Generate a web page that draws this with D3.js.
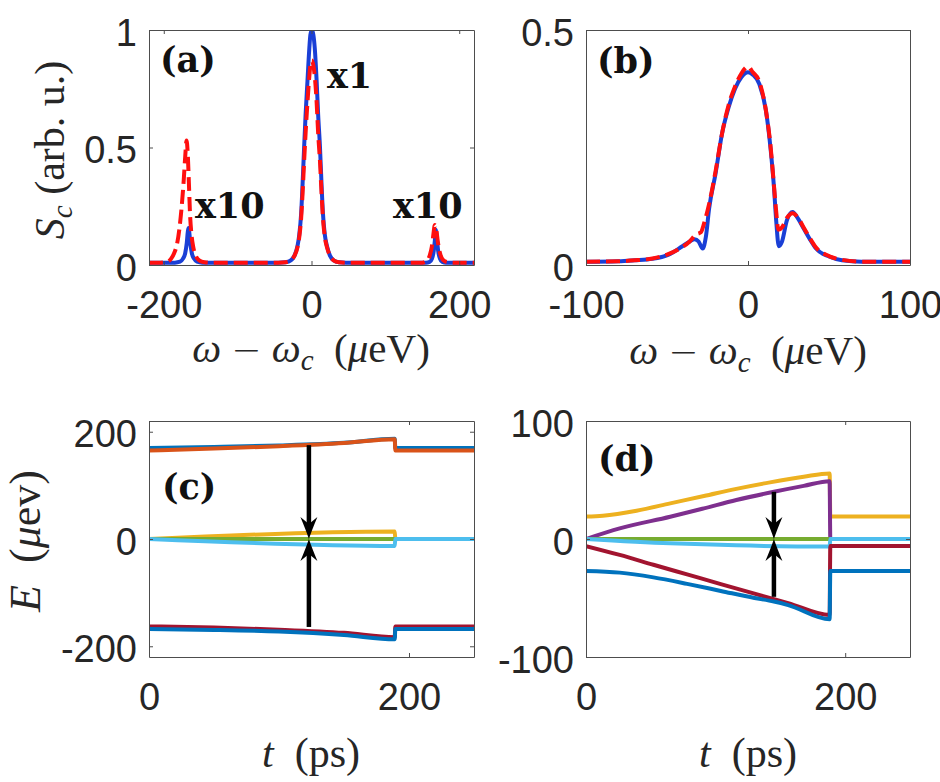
<!DOCTYPE html>
<html>
<head>
<meta charset="utf-8">
<script src="https://cdn.jsdelivr.net/npm/d3@7"></script>
<style>
  body { margin: 0; background: #fff; }
  .tick text { font-family: "Liberation Sans", Arial, sans-serif; font-size: 38px; fill: #262626; }
  .tick line, .domain { stroke: #4d4d4d; stroke-width: 1; }
  .math { font-family: "Liberation Serif", serif; fill: #262626; }
  .tag { font-family: "DejaVu Serif", serif; font-weight: bold; font-size: 35px; fill: #111; }
</style>
</head>
<body>
<svg id="chart" width="940" height="782"></svg>
<script>
// ---- panel (a): cavity spectrum S_c vs omega - omega_c, [x, S]
var aBlue = [[-220,0.01],[-185,0.01],[-178,0.014],[-174,0.027],[-171,0.05],[-169,0.09],[-167.5,0.14],[-166.5,0.157],
  [-165.5,0.14],[-164,0.09],[-162,0.05],[-159,0.027],[-155,0.014],[-148,0.01],
  [-45,0.01],[-35,0.012],[-28,0.02],[-23,0.04],[-19,0.08],[-16.5,0.13],[-14,0.22],[-12,0.35],[-10,0.5],[-8,0.64],
  [-5.5,0.78],[-3,0.92],[-1.5,0.98],[0.5,1.0],[2.5,0.98],[4.5,0.92],[7,0.78],[9,0.64],[11.5,0.5],[13.5,0.35],
  [15.5,0.22],[18,0.13],[21,0.08],[25,0.04],[30,0.02],[37,0.012],[47,0.01],
  [155,0.01],[160,0.013],[163,0.026],[165.5,0.06],[167.5,0.12],[168.5,0.15],[169.5,0.12],[171.5,0.06],
  [174,0.026],[177,0.013],[182,0.01],[220,0.01]];

var aRed = [[-220,0.01],[-205,0.01],[-195,0.014],[-190,0.027],[-186,0.05],[-182,0.09],[-179,0.15],[-176,0.24],
  [-173,0.36],[-171,0.46],[-169.2,0.53],[-167.5,0.47],[-166,0.35],[-164.5,0.22],[-162.5,0.13],[-160,0.075],
  [-157,0.042],[-152,0.02],[-145,0.012],[-135,0.01],
  [-45,0.01],[-35,0.012],[-28,0.02],[-23,0.04],[-19,0.075],[-16.5,0.12],[-14,0.2],[-12,0.31],[-10,0.44],[-8,0.56],
  [-5.5,0.69],[-3,0.8],[-1.5,0.85],[0.5,0.87],[2.5,0.85],[4.5,0.8],[7,0.69],[9,0.56],[11.5,0.44],[13.5,0.31],
  [15.5,0.2],[18,0.12],[21,0.075],[25,0.04],[30,0.02],[37,0.012],[47,0.01],
  [150,0.01],[156,0.017],[160,0.04],[163,0.08],[165,0.13],[167,0.17],[169,0.15],[171,0.1],[174,0.05],
  [178,0.022],[184,0.012],[192,0.01],[220,0.01]];

// ---- panel (b): zoom on the central peak, [x, S]
var bBlue = [[-100,0.007],[-80,0.008],[-70,0.01],[-59,0.013],[-49,0.022],[-40.5,0.04],[-36,0.05],[-33,0.055],
  [-30.5,0.05],[-28,0.035],[-26,0.06],[-24,0.12],[-20,0.195],[-16,0.28],[-12,0.335],[-8,0.375],[-4,0.4],
  [0,0.41],[3,0.405],[7,0.385],[11,0.33],[14,0.245],[16,0.167],[17.5,0.09],[19,0.04],[21,0.05],[24,0.095],
  [27.5,0.113],[31,0.098],[34,0.08],[38,0.056],[42,0.035],[50,0.018],[58,0.01],[70,0.007],[100,0.007]];

var bRed = [[-100,0.007],[-80,0.008],[-70,0.01],[-59,0.014],[-50,0.022],[-42,0.035],[-36,0.05],[-32,0.065],
  [-29,0.07],[-27,0.09],[-24,0.13],[-20,0.2],[-16,0.28],[-12,0.34],[-8,0.38],[-4,0.408],[0,0.422],[3,0.41],
  [7,0.39],[11,0.33],[14,0.25],[16,0.17],[17.5,0.11],[18.7,0.075],[21,0.08],[24,0.1],[27.5,0.11],[31,0.1],
  [34,0.082],[38,0.058],[42,0.037],[50,0.019],[58,0.011],[70,0.007],[100,0.007]];

// ---- panel (c): energy levels E vs t, [t, E]
var cBlueTop   = [[0,169.5],[50,171.5],[100,174.5],[150,179.5],[189,187],[189.5,169.5],[250,169.5]];
var cOrange    = [[0,165],[50,168.5],[100,173],[150,179],[189,186],[189.5,165],[250,165]];
var cYellow    = [[0,0],[189,14],[189.5,0],[250,0]];
var cGreen     = [[0,0],[250,0]];
var cLightBlue = [[0,0],[189,-13],[189.5,0],[250,0]];
var cRed       = [[0,-163],[50,-165],[100,-169],[150,-175],[189,-183],[189.5,-163],[250,-163]];
var cBlueBot   = [[0,-168],[50,-169.5],[100,-172.5],[150,-179],[189,-187],[189.5,-168],[250,-168]];

// ---- panel (d): energy levels E vs t, [t, E]
var dYellow    = [[0,19],[13,19.8],[39,24],[65,30.2],[91,36.4],[116,42.5],[142,48],[168,52.8],[188,55.6],
  [188.5,19],[250,19]];
var dPurple    = [[0,0],[26,9],[65,18.9],[91,26],[116,33],[145,40],[168,45],[188,49],[188.5,0],[250,0]];
var dGreen     = [[0,0],[188.5,0]];
var dLightBlue = [[0,0],[65,-3.7],[116,-5.4],[188,-6.4],[188.5,0],[250,0]];
var dRed       = [[0,-6],[26,-13.5],[52,-21.8],[78,-30],[104,-38.2],[130,-46.3],[156,-54.3],[188,-64.4],
  [188.5,-6],[250,-6]];
var dBlue      = [[0,-27.1],[26,-28.5],[52,-32.5],[78,-38],[104,-44],[130,-50],[145,-53],[156,-56],[188,-68],
  [188.5,-27.1],[250,-27.1]];

// arrows: [t, Etop, Ebottom, Ehead]
var cArrow = [123, 175, -164, 0];
var dArrow = [145, 40, -49, 0];

// ticks
var aXTicks = [-200, 0, 200], aYTicks = [0, 0.5, 1], aYLabels = ["0", "0.5", "1"];
var bXTicks = [-100, 0, 100], bYTicks = [0, 0.5], bYLabels = ["0", "0.5"];
var cXTicks = [0, 200], cYTicks = [-200, 0, 200];
var dXTicks = [0, 200], dYTicks = [-100, 0, 100];

var svg = d3.select("#chart");

var mBlue = "#1a3fd6", mRed = "#ff0f0f";
var colors = {blue: "#0072BD", orange: "#D95319", yellow: "#EDB120", purple: "#7E2F8E",
  green: "#77AC30", lightblue: "#4DBEEE", red: "#A2142F"};

// plain hyphen for negatives, like the original
function fmt(d) { return String(d); }

// builds one boxed axes with inward ticks on all four sides
function makePanel(id, xDom, yDom, box, xTicks, yTicks, yLabels) {
  var x = d3.scaleLinear().domain(xDom).range([box.l, box.r]);
  var y = d3.scaleLinear().domain(yDom).range([box.b, box.t]);
  var g = svg.append("g").attr("id", id);

  g.append("clipPath").attr("id", id + "-clip")
    .append("rect").attr("x", box.l).attr("y", box.t)
    .attr("width", box.r - box.l).attr("height", box.b - box.t);

  var plot = g.append("g").attr("clip-path", "url(#" + id + "-clip)");

  var xAx = g.append("g").attr("transform", "translate(0," + box.b + ")")
    .call(d3.axisBottom(x).tickValues(xTicks).tickSizeInner(-4).tickSizeOuter(0).tickPadding(26)
      .tickFormat(fmt));
  xAx.selectAll(".tick text").attr("dy", "0.71em");

  var yAx = g.append("g").attr("transform", "translate(" + box.l + ",0)")
    .call(d3.axisLeft(y).tickValues(yTicks).tickSizeInner(-4).tickSizeOuter(0).tickPadding(12)
      .tickFormat(function(d, i) { return yLabels ? yLabels[i] : fmt(d); }));
  yAx.selectAll(".tick text").attr("dy", "0.4em");

  g.append("g").attr("transform", "translate(0," + box.t + ")")
    .call(d3.axisTop(x).tickValues(xTicks).tickSizeInner(-4).tickSizeOuter(0).tickFormat(""));
  g.append("g").attr("transform", "translate(" + box.r + ",0)")
    .call(d3.axisRight(y).tickValues(yTicks).tickSizeInner(-4).tickSizeOuter(0).tickFormat(""));

  return {x: x, y: y, plot: plot, g: g};
}

function drawSmooth(p, pts, color, width, dash) {
  var line = d3.line().curve(d3.curveMonotoneX)
    .x(function(d) { return p.x(d[0]); })
    .y(function(d) { return p.y(d[1]); });
  var path = p.plot.append("path")
    .attr("d", line(pts))
    .attr("fill", "none")
    .attr("stroke", color)
    .attr("stroke-width", width)
    .attr("stroke-linejoin", "round");
  if (dash) path.attr("stroke-dasharray", dash);
  return path;
}

// double arrow pointing at Ehead from above and below
function drawArrow(p, arr) {
  var xs = p.x(arr[0]), y1 = p.y(arr[1]), y2 = p.y(arr[2]), yh = p.y(arr[3]);
  p.g.append("line").attr("x1", xs).attr("x2", xs).attr("y1", y1).attr("y2", yh - 12)
    .attr("stroke", "#000").attr("stroke-width", 4.5);
  p.g.append("line").attr("x1", xs).attr("x2", xs).attr("y1", y2).attr("y2", yh + 12)
    .attr("stroke", "#000").attr("stroke-width", 4.5);
  var head = "M0,0 Q-3,-9 -8.5,-22 L0,-15 L8.5,-22 Q3,-9 0,0 Z";
  p.g.append("path").attr("d", head).attr("fill", "#000")
    .attr("transform", "translate(" + xs + "," + yh + ")");
  p.g.append("path").attr("d", head).attr("fill", "#000")
    .attr("transform", "translate(" + xs + "," + yh + ") scale(1,-1)");
}

function tag(x, y, s) {
  svg.append("text").attr("class", "tag").attr("x", x).attr("y", y).text(s);
}

// x label: omega - omega_c (mu eV)
function omegaLabel(cx, y) {
  var t = svg.append("text").attr("class", "math").attr("x", cx).attr("y", y)
    .attr("text-anchor", "middle").attr("font-size", 41);
  t.append("tspan").attr("font-style", "italic").text("ω");
  t.append("tspan").text(" ");
  t.append("tspan").attr("font-family", "DejaVu Sans").attr("font-weight", 200).attr("font-size", 36).text("−");
  t.append("tspan").text(" ");
  t.append("tspan").attr("font-style", "italic").text("ω");
  t.append("tspan").attr("font-style", "italic").attr("font-size", 29).attr("dy", 8).text("c");
  t.append("tspan").attr("dy", -8).text("\u2002(");
  t.append("tspan").attr("font-style", "italic").text("μ");
  t.append("tspan").text("eV)");
}

function tLabel(cx, y) {
  var t = svg.append("text").attr("class", "math").attr("x", cx).attr("y", y)
    .attr("text-anchor", "middle").attr("font-size", 42);
  t.append("tspan").attr("font-style", "italic").text("t");
  t.append("tspan").text("\u2002(ps)");
}

// ---------- (a)
var pa = makePanel("pa", [-220, 220], [0, 1], {l: 149, r: 474, t: 30, b: 265}, aXTicks, aYTicks, aYLabels);
drawSmooth(pa, aBlue, mBlue, 4);
drawSmooth(pa, aRed, mRed, 4, "14,6");

// ---------- (b)
var pb = makePanel("pb", [-100, 100], [0, 0.5], {l: 586, r: 910, t: 30, b: 265}, bXTicks, bYTicks, bYLabels);
drawSmooth(pb, bBlue, mBlue, 4);
drawSmooth(pb, bRed, mRed, 4, "14,6");

// ---------- (c)
var pc = makePanel("pc", [0, 250], [-220, 220], {l: 149, r: 474, t: 421, b: 657}, cXTicks, cYTicks);
drawSmooth(pc, cBlueTop, colors.blue, 4);
drawSmooth(pc, cOrange, colors.orange, 4);
drawSmooth(pc, cYellow, colors.yellow, 4);
drawSmooth(pc, cGreen, colors.green, 4);
drawSmooth(pc, cLightBlue, colors.lightblue, 4);
drawSmooth(pc, cRed, colors.red, 4);
drawSmooth(pc, cBlueBot, colors.blue, 4);
drawArrow(pc, cArrow);

// ---------- (d)
var pd = makePanel("pd", [0, 250], [-100, 100], {l: 586, r: 910, t: 421, b: 657}, dXTicks, dYTicks);
drawSmooth(pd, dYellow, colors.yellow, 4);
drawSmooth(pd, dPurple, colors.purple, 4);
drawSmooth(pd, dGreen, colors.green, 4);
drawSmooth(pd, dLightBlue, colors.lightblue, 4);
drawSmooth(pd, dRed, colors.red, 4);
drawSmooth(pd, dBlue, colors.blue, 4);
drawArrow(pd, dArrow);

// panel tags and peak annotations
tag(160, 72, "(a)");
tag(597, 73, "(b)");
tag(162, 499, "(c)");
tag(598, 471, "(d)");
tag(327, 88, "x1");
tag(195, 218, "x10");
tag(393, 218, "x10");

// axis labels
omegaLabel(311, 362);
omegaLabel(748, 364);
tLabel(311, 767);
tLabel(748, 767);

var ySc = svg.append("text").attr("class", "math").attr("text-anchor", "middle")
  .attr("font-size", 42).attr("transform", "translate(64,150) rotate(-90)");
ySc.append("tspan").attr("font-style", "italic").text("S");
ySc.append("tspan").attr("font-style", "italic").attr("font-size", 29).attr("dy", 8).text("c");
ySc.append("tspan").attr("dy", -8).text(" (arb. u.)");

var yE = svg.append("text").attr("class", "math").attr("text-anchor", "middle")
  .attr("font-size", 44).attr("transform", "translate(40,541) rotate(-90)");
yE.append("tspan").attr("font-style", "italic").text("E");
yE.append("tspan").text("\u2002(");
yE.append("tspan").attr("font-style", "italic").text("μ");
yE.append("tspan").text("ev)");
</script>
</body>
</html>
